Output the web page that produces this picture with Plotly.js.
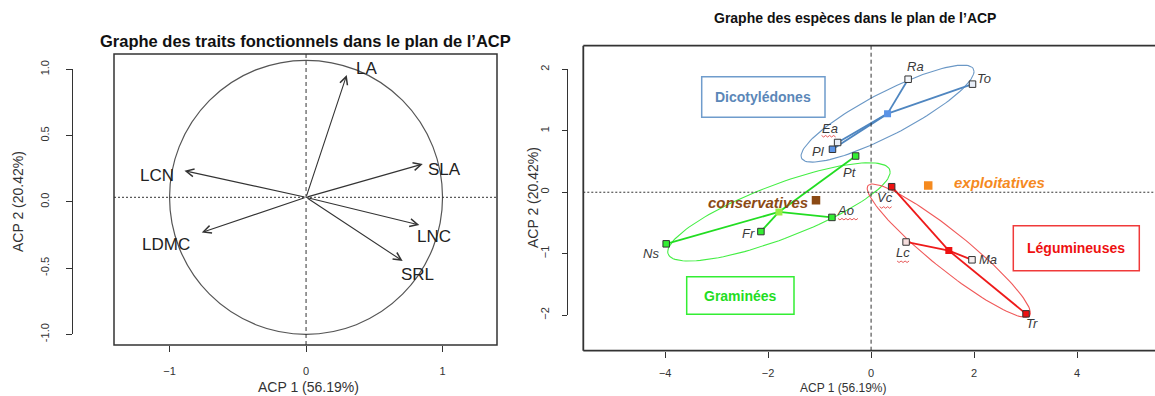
<!DOCTYPE html>
<html><head><meta charset="utf-8">
<script src="https://cdn.plot.ly/plotly-3.0.1.min.js"></script>
<style>html,body{margin:0;padding:0;background:#fff}#chart{width:1155px;height:396px}</style>
</head><body><div id="chart"></div>
<script>
// ---------- Data: left panel (correlation circle of traits) ----------
const traitNames = ['LA', 'SLA', 'LCN', 'LDMC', 'LNC', 'SRL'];
const traitPC1 = [0.298, 0.855, -0.891, -0.764, 0.830, 0.708];
const traitPC2 = [0.893, 0.243, 0.194, -0.256, -0.202, -0.465];

// ---------- Data: right panel (species) ----------
const speciesNames = ['Ns', 'Fr', 'Ao', 'Pt', 'Pl', 'Ea', 'Ra', 'To', 'Vc', 'Lc', 'Ma', 'Tr'];
const speciesGroup = [1, 1, 1, 1, 0, 0, 0, 0, 2, 2, 2, 2];
const speciesPC1 = [-3.98, -2.14, -0.76, -0.30, -0.75, -0.65, 0.72, 1.97, 0.40, 0.68, 1.96, 3.01];
const speciesPC2 = [-0.84, -0.64, -0.41, 0.59, 0.70, 0.81, 1.84, 1.76, 0.09, -0.81, -1.10, -1.98];

const groupNames = ['Dicotylédones', 'Graminées', 'Légumineuses'];
const groupCentreX = [0.32, -1.79, 1.51];
const groupCentreY = [1.28, -0.32, -0.95];
const ellipseHalfX = [1.68, 2.16, 1.585];
const ellipseHalfY = [0.79, 0.80, 1.085];
const ellipseCorr = [0.87, 0.81, -0.935];

const strategyNames = ['conservatives', 'exploitatives'];
const strategyPC1 = [-1.07, 1.11];
const strategyPC2 = [-0.13, 0.11];

// ---------- Tick labels ----------
const leftXTicks = [-1, 0, 1];
const leftYTicks = [-1, -0.5, 0, 0.5, 1];
const leftYTickText = ['-1.0', '-0.5', '0.0', '0.5', '1.0'];
const rightXTicks = [-4, -2, 0, 2, 4];
const rightYTicks = [-2, -1, 0, 1, 2];

// ---------- Styles ----------
const W = 1155, H = 396;
const PX = x => x / W;
const PY = y => 1 - y / H;
const FONT = 'Liberation Sans, Arial, sans-serif';
const INK = '#333333';
const groupLine = ['#4f86c0', '#22dd22', '#ee1a1a'];
const groupEllipse = ['#6b98c6', '#44ee44', '#f05a5a'];
const groupCentreColor = ['#5a93e6', '#99ee44', '#ee1111'];
const groupBoxText = ['#5b87b8', '#22dd22', '#ee1111'];
const groupBoxColor = ['#6f9ccc', '#33ee33', '#f03a3a'];
const speciesFill = ['#33ee33','#33ee33','#33ee33','#33ee33','#5a93e6','#e8eef8','#f4f6fa','#e8eef8','#ee1111','#f6dede','#f6eeee','#ee1111'];
const strategyColor = ['#8b4a14', '#f58a1f'];
// label offsets in pixels [dx, dy(down)]
const traitLabelOffset = {LA:[20,-6], SLA:[22,5], LCN:[-27,5], LDMC:[-36,12], LNC:[15,12], SRL:[15,13]};
const speciesLabelOffset = {Ns:[-15,10], Fr:[-12,2], Ao:[14,-7], Pt:[-6,16], Pl:[-14,2], Ea:[-8,-14], Ra:[7,-13], To:[12,-6], Vc:[-7,11], Lc:[-3,11], Ma:[16,0], Tr:[6,10]};
// spell-check squiggles under some labels: [species, dx start from label, dy(down) from label, length]
const squiggles = [['Ea', -8, 7, 15], ['Ao', -8, 8, 20], ['Vc', -5, 9, 13], ['Lc', -6, 8, 13]];
const strategyLabelOffset = [[-58, 2], [71, -3]];
const groupBoxes = [[701.7, 76.7, 825, 117.3], [686.7, 276.7, 794, 314.3], [1013.3, 225.7, 1139.3, 270.7]];

// ---------- Traces ----------
const traces = [];

// ellipses (geometry generated from read ellipse parameters)
for (let g = 0; g < groupNames.length; g++) {
  const ex = [], ey = [];
  const phi = Math.acos(ellipseCorr[g]);
  for (let i = 0; i <= 120; i++) {
    const t = 2 * Math.PI * i / 120;
    ex.push(groupCentreX[g] + ellipseHalfX[g] * Math.cos(t));
    ey.push(groupCentreY[g] + ellipseHalfY[g] * Math.cos(t - phi));
  }
  traces.push({x: ex, y: ey, xaxis: 'x2', yaxis: 'y2', mode: 'lines', type: 'scatter',
    line: {color: groupEllipse[g], width: 1.1}, hoverinfo: 'skip'});
}
// stars
for (let g = 0; g < groupNames.length; g++) {
  const sx = [], sy = [];
  for (let i = 0; i < speciesNames.length; i++) {
    if (speciesGroup[i] !== g) continue;
    sx.push(groupCentreX[g], speciesPC1[i], null);
    sy.push(groupCentreY[g], speciesPC2[i], null);
  }
  traces.push({x: sx, y: sy, xaxis: 'x2', yaxis: 'y2', mode: 'lines', type: 'scatter',
    line: {color: groupLine[g], width: 1.8}, hoverinfo: 'skip'});
}
// centroids
traces.push({x: groupCentreX, y: groupCentreY, xaxis: 'x2', yaxis: 'y2', mode: 'markers', type: 'scatter',
  marker: {symbol: 'square', size: 7, color: groupCentreColor, line: {width: 0}}});
// species points
traces.push({x: speciesPC1, y: speciesPC2, xaxis: 'x2', yaxis: 'y2', mode: 'markers', type: 'scatter',
  marker: {symbol: 'square', size: 6.5, color: speciesFill, line: {color: INK, width: 1}}});
// strategy markers
traces.push({x: strategyPC1, y: strategyPC2, xaxis: 'x2', yaxis: 'y2', mode: 'markers', type: 'scatter',
  marker: {symbol: 'square', size: 8.5, color: strategyColor, line: {width: 0}}});
// dummy traces for display axes
traces.push({x: [0], y: [0], xaxis: 'x3', yaxis: 'y3', mode: 'markers', marker: {opacity: 0}, hoverinfo: 'skip'});
traces.push({x: [0], y: [0], xaxis: 'x4', yaxis: 'y4', mode: 'markers', marker: {opacity: 0}, hoverinfo: 'skip'});
traces.push({x: [0], y: [0], xaxis: 'x', yaxis: 'y', mode: 'markers', marker: {opacity: 0}, hoverinfo: 'skip'});

// ---------- Shapes ----------
const shapes = [];
const DASH = '4px,3px', DOT = '2px,2px';
// left box
shapes.push({type: 'rect', xref: 'paper', yref: 'paper', x0: PX(114), x1: PX(497), y0: PY(345), y1: PY(54),
  line: {color: INK, width: 1.5}});
shapes.push({type: 'circle', xref: 'x', yref: 'y', x0: -1, x1: 1, y0: -1, y1: 1, line: {color: '#555', width: 1.2}});
shapes.push({type: 'line', xref: 'x', yref: 'y domain', x0: 0, x1: 0, y0: 0, y1: 1, line: {color: INK, width: 1, dash: DASH}});
shapes.push({type: 'line', xref: 'x domain', yref: 'y', x0: 0, x1: 1, y0: 0, y1: 0, line: {color: INK, width: 1, dash: DOT}});
// right box (top, bottom, left)
shapes.push({type: 'line', xref: 'paper', yref: 'paper', x0: PX(583.3), x1: 1, y0: PY(45.7), y1: PY(45.7), line: {color: INK, width: 1.8}});
shapes.push({type: 'line', xref: 'paper', yref: 'paper', x0: PX(583.3), x1: 1, y0: PY(350.7), y1: PY(350.7), line: {color: INK, width: 1.8}});
shapes.push({type: 'line', xref: 'paper', yref: 'paper', x0: PX(583.3), x1: PX(583.3), y0: PY(350.7), y1: PY(45.7), line: {color: INK, width: 1.8}});
shapes.push({type: 'line', xref: 'x2', yref: 'y2 domain', x0: 0, x1: 0, y0: 0, y1: 1, line: {color: INK, width: 1, dash: DASH}});
shapes.push({type: 'line', xref: 'x2 domain', yref: 'y2', x0: 0, x1: 1, y0: 0, y1: 0, line: {color: INK, width: 1, dash: DOT}});
// group boxes
for (let g = 0; g < groupNames.length; g++) {
  const b = groupBoxes[g];
  shapes.push({type: 'rect', xref: 'paper', yref: 'paper', x0: PX(b[0]), x1: PX(b[2]), y0: PY(b[3]), y1: PY(b[1]),
    line: {color: groupBoxColor[g], width: 1.5}});
}
// spell-check squiggles (pixel-sized, anchored at species points)
for (const s of squiggles) {
  const i = speciesNames.indexOf(s[0]);
  const base = speciesLabelOffset[s[0]];
  const x0 = base[0] + s[1], y0 = -(base[1] + s[2]);
  let p = `M${x0},${y0}`;
  for (let k = 1; k * 2 <= s[3]; k++) p += ` L${x0 + k * 2},${y0 + (k % 2 ? -1.5 : 0)}`;
  shapes.push({type: 'path', xref: 'x2', yref: 'y2', xsizemode: 'pixel', ysizemode: 'pixel',
    xanchor: speciesPC1[i], yanchor: speciesPC2[i], path: p, line: {color: '#e03030', width: 0.8}});
}

// ---------- Annotations ----------
const ann = [];
// titles
ann.push({text: 'Graphe des traits fonctionnels dans le plan de l’ACP', xref: 'paper', yref: 'paper', x: PX(305), y: PY(41),
  showarrow: false, xanchor: 'center', yanchor: 'middle', font: {family: FONT, size: 16.5, color: '#111', weight: 'bold'}});
ann.push({text: 'Graphe des espèces dans le plan de l’ACP', xref: 'paper', yref: 'paper', x: PX(855), y: PY(18),
  showarrow: false, xanchor: 'center', yanchor: 'middle', font: {family: FONT, size: 14, color: '#111', weight: 'bold'}});
// axis titles
ann.push({text: 'ACP 1 (56.19%)', xref: 'paper', yref: 'paper', x: PX(308), y: PY(387), showarrow: false,
  xanchor: 'center', yanchor: 'middle', font: {family: FONT, size: 14, color: INK}});
ann.push({text: 'ACP 2 (20.42%)', xref: 'paper', yref: 'paper', x: PX(18), y: PY(202), showarrow: false, textangle: -90,
  xanchor: 'center', yanchor: 'middle', font: {family: FONT, size: 14, color: INK}});
ann.push({text: 'ACP 1 (56.19%)', xref: 'paper', yref: 'paper', x: PX(844), y: PY(388), showarrow: false,
  xanchor: 'center', yanchor: 'middle', font: {family: FONT, size: 12, color: INK}});
ann.push({text: 'ACP 2 (20.42%)', xref: 'paper', yref: 'paper', x: PX(533), y: PY(198), showarrow: false, textangle: -90,
  xanchor: 'center', yanchor: 'middle', font: {family: FONT, size: 14, color: INK}});
// arrows + labels
for (let i = 0; i < traitNames.length; i++) {
  ann.push({x: traitPC1[i], y: traitPC2[i], ax: 0, ay: 0, xref: 'x', yref: 'y', axref: 'x', ayref: 'y', text: '',
    showarrow: true, arrowhead: 5, arrowsize: 1.4, arrowwidth: 1.1, arrowcolor: INK, standoff: 0, startstandoff: 0});
  const o = traitLabelOffset[traitNames[i]];
  ann.push({x: traitPC1[i], y: traitPC2[i], xref: 'x', yref: 'y', text: traitNames[i], showarrow: false,
    xshift: o[0], yshift: -o[1], xanchor: 'center', yanchor: 'middle', font: {family: FONT, size: 17, color: '#222'}});
}
// species labels
for (let i = 0; i < speciesNames.length; i++) {
  const o = speciesLabelOffset[speciesNames[i]];
  ann.push({x: speciesPC1[i], y: speciesPC2[i], xref: 'x2', yref: 'y2', text: speciesNames[i], showarrow: false,
    xshift: o[0], yshift: -o[1], xanchor: 'center', yanchor: 'middle',
    font: {family: FONT, size: 13, color: '#3a3a3a', style: 'italic'}});
}
// strategy labels
for (let i = 0; i < strategyNames.length; i++) {
  const o = strategyLabelOffset[i];
  ann.push({x: strategyPC1[i], y: strategyPC2[i], xref: 'x2', yref: 'y2', text: strategyNames[i], showarrow: false,
    xshift: o[0], yshift: -o[1], xanchor: 'center', yanchor: 'middle',
    font: {family: FONT, size: 15, color: strategyColor[i], style: 'italic', weight: 'bold'}});
}
// group box labels
for (let g = 0; g < groupNames.length; g++) {
  const b = groupBoxes[g];
  ann.push({text: groupNames[g], xref: 'paper', yref: 'paper', x: PX((b[0] + b[2]) / 2), y: PY((b[1] + b[3]) / 2),
    showarrow: false, xanchor: 'center', yanchor: 'middle', font: {family: FONT, size: 14, color: groupBoxText[g], weight: 'bold'}});
}

const tickFont = {family: FONT, size: 11, color: INK};
const hidden = {visible: false, showgrid: false, zeroline: false, fixedrange: true};

const layout = {
  width: W, height: H, margin: {l: 0, r: 0, t: 0, b: 0}, paper_bgcolor: '#fff', plot_bgcolor: 'rgba(0,0,0,0)',
  showlegend: false, hovermode: false,
  xaxis: {domain: [PX(114), PX(497)], range: [-1.407, 1.399], anchor: 'y', showgrid: false, zeroline: false,
    showline: false, tickmode: 'array', tickvals: leftXTicks, ticks: 'outside', ticklen: 6, tickcolor: INK,
    tickfont: tickFont, ticklabelstandoff: 10, fixedrange: true},
  yaxis: Object.assign({domain: [PY(345), PY(54)], range: [-1.078, 1.046], anchor: 'x'}, hidden),
  xaxis2: {domain: [PX(583.3), 1], range: [-5.59, 5.515], anchor: 'y2', showgrid: false, zeroline: false,
    showline: false, tickmode: 'array', tickvals: rightXTicks, ticks: 'outside', ticklen: 6, tickcolor: INK,
    tickfont: tickFont, ticklabelstandoff: 6, fixedrange: true},
  yaxis2: Object.assign({domain: [PY(350.7), PY(45.7)], range: [-2.58, 2.386], anchor: 'x2'}, hidden),
  xaxis3: Object.assign({domain: [PX(73), PX(80)], anchor: 'y3'}, hidden),
  yaxis3: {domain: [PY(334.3), PY(69.3)], range: [-1, 1], anchor: 'x3', side: 'left', showgrid: false, zeroline: false,
    showline: true, linecolor: INK, linewidth: 1.5, tickmode: 'array', tickvals: leftYTicks, ticktext: leftYTickText,
    ticks: 'outside', ticklen: 6, tickcolor: INK, tickangle: -90, tickfont: tickFont, ticklabelstandoff: 12, fixedrange: true},
  xaxis4: Object.assign({domain: [PX(568), PX(575)], anchor: 'y4'}, hidden),
  yaxis4: {domain: [PY(315), PY(69.3)], range: [-2, 2], anchor: 'x4', side: 'left', showgrid: false, zeroline: false,
    showline: true, linecolor: INK, linewidth: 1.5, tickmode: 'array', tickvals: rightYTicks,
    ticks: 'outside', ticklen: 5, tickcolor: INK, tickangle: -90, tickfont: tickFont, ticklabelstandoff: 8, fixedrange: true},
  shapes: shapes,
  annotations: ann
};

Plotly.newPlot('chart', traces, layout, {staticPlot: true, displayModeBar: false});
</script>
</body></html>
